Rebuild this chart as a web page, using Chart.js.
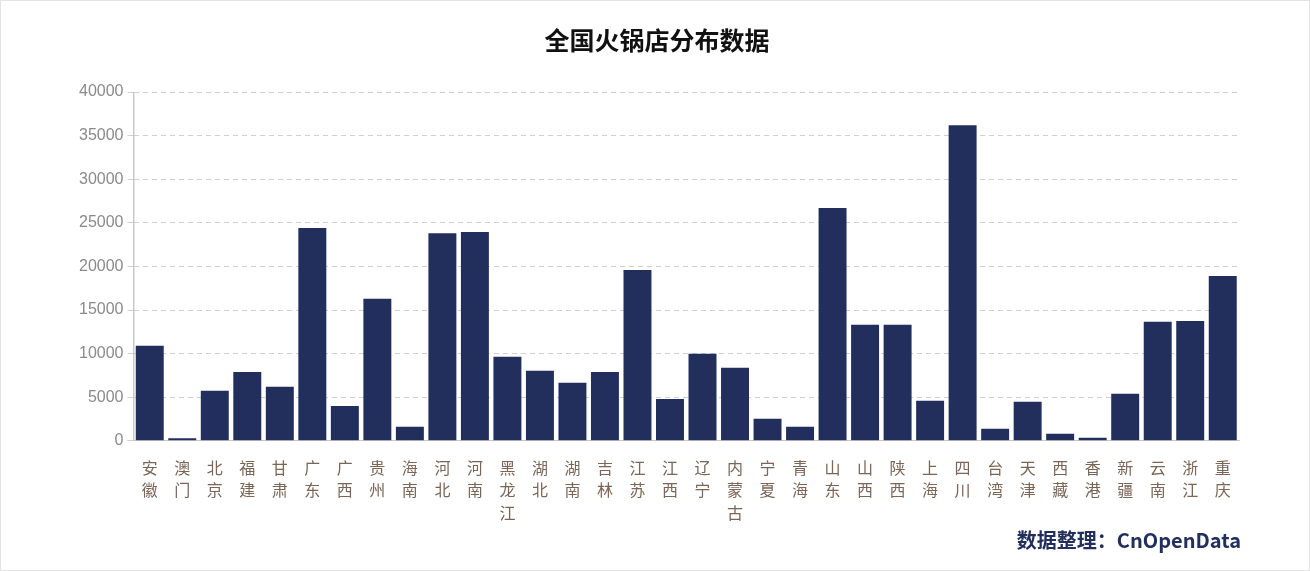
<!DOCTYPE html>
<html>
<head>
<meta charset="utf-8">
<script src="https://cdn.jsdelivr.net/npm/chart.js@4"></script>
<style>
	body { margin: 0; background: #fff; }
	#wrap { position: relative; width: 1308px; height: 569px; border: 1px solid #e3e3e3; }
	#source { position: absolute; right: 68px; bottom: 16px; font: bold 20px "Noto Sans CJK SC"; color: #222f5d; }
</style>
</head>
<body>
<div id="wrap">
	<canvas id="chart-hotpot"></canvas>
	<div id="source">数据整理：CnOpenData</div>
</div>
<script>
const PROVINCES = ["安徽", "澳门", "北京", "福建", "甘肃", "广东", "广西", "贵州", "海南", "河北", "河南", "黑龙江", "湖北", "湖南", "吉林", "江苏", "江西", "辽宁", "内蒙古", "宁夏", "青海", "山东", "山西", "陕西", "上海", "四川", "台湾", "天津", "西藏", "香港", "新疆", "云南", "浙江", "重庆"];
const STORES = [10900, 300, 5730, 7900, 6200, 24400, 4000, 16300, 1600, 23800, 23950, 9630, 8020, 6650, 7900, 19600, 4800, 9970, 8370, 2520, 1600, 26700, 13300, 13300, 4590, 36200, 1380, 4470, 800, 340, 5390, 13640, 13750, 18900];
const Y_TICKS = [0, 5000, 10000, 15000, 20000, 25000, 30000, 35000, 40000];

const CJK = "'Noto Sans CJK SC', sans-serif";

const CHART_WRAPPER = document.getElementById("chart-hotpot");

// Chart config
const CHART_CONFIG = {
	type: "bar",
	data: {
		// vertical labels: one character per line
		labels: PROVINCES.map((p) => p.split("")),
		datasets: [
			{
				label: "火锅店数量",
				data: STORES,
				backgroundColor: "#222f5d",
				barPercentage: 0.86,
				categoryPercentage: 1,
			},
		],
	},
	options: {
		responsive: false,
		animation: false,
		layout: {
			padding: { left: 74, right: 70, top: 0, bottom: 38 },
		},
		scales: {
			x: {
				border: { display: true, color: "#c8c8c8" },
				grid: { display: false },
				ticks: {
					maxRotation: 0,
					autoSkip: false,
					color: "#7a6556",
					font: { family: CJK, size: 16, lineHeight: 1.4 },
					padding: 8,
				},
			},
			y: {
				min: 0,
				max: 40000,
				afterBuildTicks: (axis) => {
					axis.ticks = Y_TICKS.map((v) => ({ value: v }));
				},
				border: { display: true, color: "#c8c8c8", dash: [5, 4] },
				grid: {
					color: "#cfcfcf",
					drawTicks: true,
					tickLength: 6,
				},
				ticks: {
					color: "#8a8a8a",
					font: { family: "'Liberation Sans', sans-serif", size: 16 },
					padding: 4,
					callback: (v) => String(v),
				},
			},
		},
		plugins: {
			legend: { display: false },
			tooltip: { enabled: false },
			title: {
				display: true,
				text: "全国火锅店分布数据",
				color: "#111",
				font: { family: CJK, size: 25, weight: "bold" },
				padding: { top: 24, bottom: 37 },
			},
		},
	},
	plugins: [
		{
			// solid left axis line over the dashed grid
			id: "solidAxis",
			afterDraw: (chart) => {
				const { ctx, chartArea } = chart;
				ctx.save();
				ctx.strokeStyle = "#c8c8c8";
				ctx.lineWidth = 1;
				ctx.beginPath();
				ctx.moveTo(chartArea.left + 0.5, chartArea.top);
				ctx.lineTo(chartArea.left + 0.5, chartArea.bottom);
				ctx.stroke();
				ctx.restore();
			},
		},
	],
};

if (CHART_WRAPPER) {
	CHART_WRAPPER.width = 1308;
	CHART_WRAPPER.height = 569;
	new Chart(CHART_WRAPPER, CHART_CONFIG);
}
</script>
</body>
</html>
